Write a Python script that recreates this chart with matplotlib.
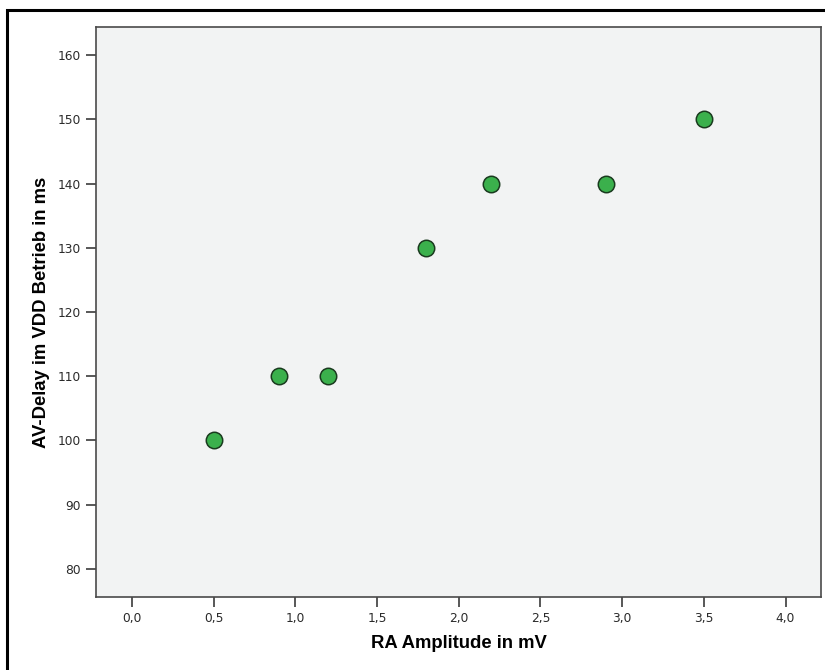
import matplotlib
matplotlib.use('Agg')
import matplotlib.pyplot as plt
from matplotlib.patches import Rectangle

# data
ra_amplitude = [0.5, 0.9, 1.2, 1.8, 2.2, 2.9, 3.5]
av_delay = [100, 110, 110, 130, 140, 140, 150]
x_ticks = [0.0, 0.5, 1.0, 1.5, 2.0, 2.5, 3.0, 3.5, 4.0]
y_ticks = [80, 90, 100, 110, 120, 130, 140, 150, 160]

W, H = 825, 670
fig = plt.figure(figsize=(W / 100, H / 100), dpi=100)
fig.patch.set_facecolor('white')

# outer frame (only left and top edges fall inside the picture)
fig.patches.append(Rectangle((7 / W, -0.1), 1.2, 1.1 - 10 / H, transform=fig.transFigure,
                             fill=False, edgecolor='black', linewidth=2.2))

ax = fig.add_axes([96 / W, 1 - 597 / H, (821 - 96) / W, (597 - 27) / H])
ax.set_facecolor('#f2f3f3')
ax.scatter(ra_amplitude, av_delay, s=140, color='#3bb04c', edgecolors='#1a3a1e',
           linewidths=1.1, zorder=3)

ax.set_xlim(-0.22, 4.217)
ax.set_ylim(75.64, 164.36)
ax.set_xticks(x_ticks)
ax.set_xticklabels([('%.1f' % v).replace('.', ',') for v in x_ticks])
ax.set_yticks(y_ticks)
ax.set_yticklabels([str(v) for v in y_ticks])

for s in ax.spines.values():
    s.set_color('#4a4a4a')
    s.set_linewidth(1.2)

ax.tick_params(direction='out', length=7, width=1.3, color='#4a4a4a',
               labelsize=8.8, labelcolor='#2a2a2a', pad=4)

ax.set_xlabel('RA Amplitude in mV', fontsize=13.3, fontweight='bold',
              family='Liberation Sans')
ax.set_ylabel('AV-Delay im VDD Betrieb in ms', fontsize=13.3, fontweight='bold',
              family='Liberation Sans')
ax.xaxis.set_label_coords(0.5, (597 - 643) / 570)
ax.xaxis.label.set_va('center')
ax.yaxis.set_label_coords((42 - 96) / 725, 0.5)
ax.yaxis.label.set_va('center')

fig.savefig('out.png', dpi=100)
